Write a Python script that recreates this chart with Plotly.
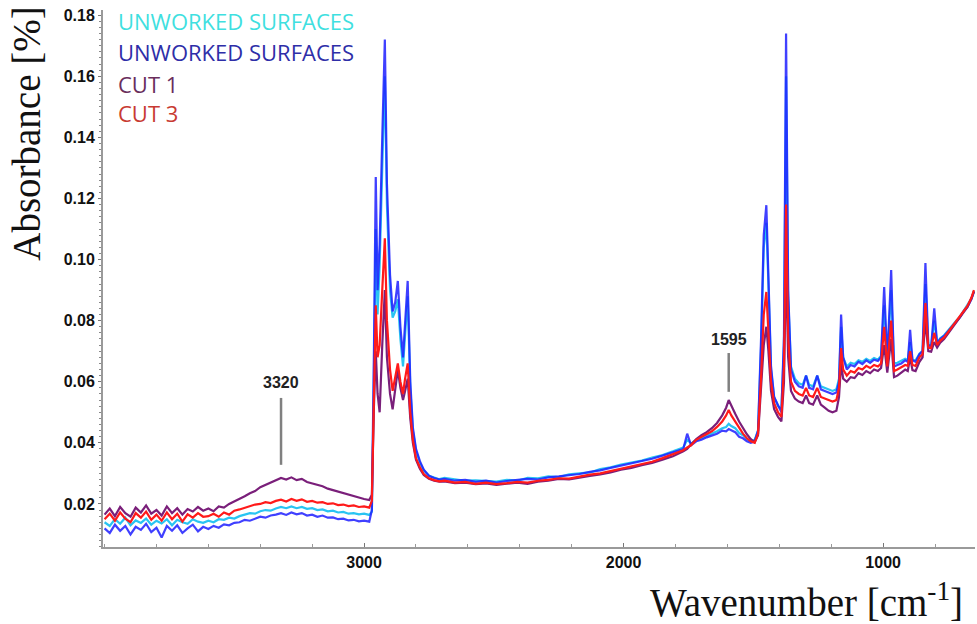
import plotly.graph_objects as go

# ---------------- data ----------------
wavenumber = [
    4000, 3980, 3960, 3940, 3920, 3900, 3880, 3860, 3840, 3820,
    3800, 3780, 3760, 3740, 3720, 3700, 3680, 3660, 3640, 3620,
    3600, 3580, 3560, 3540, 3520, 3500, 3480, 3460, 3440, 3420,
    3400, 3380, 3360, 3340, 3320, 3300, 3280, 3260, 3240, 3220,
    3200, 3180, 3160, 3140, 3120, 3100, 3080, 3060, 3040, 3020,
    3000, 2980,
    2970, 2962, 2955, 2948, 2940, 2930, 2920, 2912, 2900, 2890,
    2880, 2870, 2860, 2850, 2842, 2832, 2822, 2812, 2800, 2785,
    2770, 2750, 2730, 2710,
    2690, 2650, 2610, 2570, 2530, 2490, 2450, 2410, 2370, 2330,
    2290, 2250, 2210, 2170, 2130, 2090, 2050, 2010, 1970, 1930,
    1890, 1850, 1810, 1770,
    1755, 1740, 1720, 1700, 1680, 1660, 1640, 1620, 1605, 1595,
    1585, 1570, 1555, 1540, 1525, 1510, 1495, 1482, 1470, 1460,
    1450, 1442, 1432, 1420, 1405, 1392, 1382, 1374, 1366, 1355,
    1340, 1325, 1310, 1297, 1285, 1270, 1254, 1240, 1225, 1210,
    1195, 1180, 1170, 1162, 1154, 1140, 1125, 1110, 1095, 1080,
    1065, 1050, 1035, 1020, 1008, 996, 984, 969, 958, 945,
    930, 915, 905, 896, 887, 875, 860, 848, 837, 826,
    815, 803, 792, 780, 765, 750, 735, 720, 705, 690,
    675, 660, 650,
]

unworked_cyan = [
    0.0140, 0.0128, 0.0150, 0.0135, 0.0155, 0.0130, 0.0146, 0.0138, 0.0152, 0.0132,
    0.0145, 0.0136, 0.0150, 0.0130, 0.0148, 0.0140, 0.0135, 0.0150, 0.0142, 0.0138,
    0.0145, 0.0140, 0.0150, 0.0148, 0.0155, 0.0152, 0.0160, 0.0165, 0.0170, 0.0168,
    0.0176, 0.0180, 0.0178, 0.0185, 0.0190, 0.0186, 0.0192, 0.0186, 0.0190, 0.0184,
    0.0186, 0.0180, 0.0182, 0.0176, 0.0178, 0.0172, 0.0174, 0.0168, 0.0170, 0.0166,
    0.0168, 0.0164,
    0.0175, 0.0620, 0.1100, 0.0820, 0.0980, 0.1300, 0.1600, 0.1180, 0.0900, 0.0810,
    0.0830, 0.0870, 0.0740, 0.0650, 0.0760, 0.0880, 0.0580, 0.0440, 0.0375, 0.0335,
    0.0310, 0.0292, 0.0286, 0.0281,
    0.0285, 0.0280, 0.0276, 0.0277, 0.0274, 0.0273, 0.0279, 0.0276, 0.0285, 0.0284,
    0.0290, 0.0288, 0.0297, 0.0301, 0.0303, 0.0314, 0.0320, 0.0329, 0.0335, 0.0342,
    0.0352, 0.0360, 0.0372, 0.0385,
    0.0410, 0.0398, 0.0408, 0.0415, 0.0422, 0.0430, 0.0438, 0.0448, 0.0452, 0.0462,
    0.0455, 0.0448, 0.0432, 0.0425, 0.0412, 0.0405, 0.0410, 0.0440, 0.0720, 0.1040,
    0.1120, 0.0920, 0.0640, 0.0550, 0.0520, 0.0510, 0.0720, 0.1600, 0.0880, 0.0650,
    0.0610, 0.0595, 0.0590, 0.0620, 0.0590, 0.0585, 0.0620, 0.0585, 0.0580, 0.0575,
    0.0570, 0.0575, 0.0610, 0.0780, 0.0680, 0.0650, 0.0662, 0.0658, 0.0670, 0.0665,
    0.0675, 0.0668, 0.0678, 0.0672, 0.0685, 0.0850, 0.0675, 0.0900, 0.0660, 0.0662,
    0.0668, 0.0675, 0.0670, 0.0730, 0.0672, 0.0670, 0.0692, 0.0702, 0.0920, 0.0722,
    0.0718, 0.0800, 0.0728, 0.0742, 0.0752, 0.0768, 0.0782, 0.0798, 0.0812, 0.0832,
    0.0848, 0.0872, 0.0898,
]

unworked_blue = [
    0.0120, 0.0105, 0.0132, 0.0112, 0.0128, 0.0100, 0.0125, 0.0115, 0.0135, 0.0108,
    0.0122, 0.0090, 0.0128, 0.0112, 0.0130, 0.0105, 0.0120, 0.0132, 0.0110, 0.0125,
    0.0118, 0.0128, 0.0122, 0.0133, 0.0130, 0.0138, 0.0140, 0.0148, 0.0145, 0.0152,
    0.0158, 0.0155, 0.0162, 0.0165, 0.0170, 0.0164, 0.0172, 0.0166, 0.0170, 0.0162,
    0.0165, 0.0158, 0.0162, 0.0155, 0.0156, 0.0150, 0.0152, 0.0146, 0.0148, 0.0143,
    0.0145, 0.0142,
    0.0180, 0.0700, 0.1270, 0.0900, 0.1050, 0.1400, 0.1720, 0.1250, 0.0950, 0.0830,
    0.0860, 0.0930, 0.0780, 0.0680, 0.0800, 0.0930, 0.0600, 0.0450, 0.0380, 0.0340,
    0.0312, 0.0292, 0.0285, 0.0280,
    0.0282, 0.0276, 0.0279, 0.0272, 0.0276, 0.0270, 0.0275, 0.0278, 0.0282, 0.0280,
    0.0287, 0.0290, 0.0293, 0.0298, 0.0305, 0.0310, 0.0318, 0.0325, 0.0332, 0.0340,
    0.0348, 0.0358, 0.0368, 0.0380,
    0.0430, 0.0392, 0.0405, 0.0410, 0.0418, 0.0425, 0.0430, 0.0440, 0.0438, 0.0445,
    0.0440, 0.0435, 0.0420, 0.0415, 0.0405, 0.0400, 0.0405, 0.0440, 0.0750, 0.1080,
    0.1178, 0.0950, 0.0650, 0.0550, 0.0520, 0.0500, 0.0750, 0.1740, 0.0900, 0.0640,
    0.0600, 0.0585, 0.0580, 0.0620, 0.0580, 0.0575, 0.0620, 0.0575, 0.0570, 0.0565,
    0.0560, 0.0565, 0.0600, 0.0820, 0.0680, 0.0640, 0.0655, 0.0650, 0.0665, 0.0658,
    0.0670, 0.0662, 0.0672, 0.0668, 0.0680, 0.0910, 0.0670, 0.0966, 0.0650, 0.0655,
    0.0660, 0.0670, 0.0665, 0.0770, 0.0670, 0.0665, 0.0690, 0.0700, 0.0989, 0.0720,
    0.0715, 0.0840, 0.0725, 0.0740, 0.0750, 0.0765, 0.0780, 0.0795, 0.0810, 0.0830,
    0.0845, 0.0870, 0.0895,
]

cut1 = [
    0.0165, 0.0185, 0.0160, 0.0190, 0.0170, 0.0158, 0.0188, 0.0172, 0.0195, 0.0168,
    0.0180, 0.0162, 0.0192, 0.0170, 0.0186, 0.0165, 0.0183, 0.0175, 0.0190, 0.0178,
    0.0185, 0.0176, 0.0192, 0.0188, 0.0200, 0.0208, 0.0215, 0.0225, 0.0235, 0.0242,
    0.0255, 0.0262, 0.0270, 0.0278, 0.0285, 0.0280, 0.0287, 0.0278, 0.0282, 0.0272,
    0.0268, 0.0262, 0.0258, 0.0250, 0.0245, 0.0240, 0.0234, 0.0230, 0.0225, 0.0220,
    0.0216, 0.0213,
    0.0230, 0.0520, 0.0700, 0.0560, 0.0500, 0.0720, 0.0900, 0.0680, 0.0560, 0.0510,
    0.0570, 0.0640, 0.0580, 0.0540, 0.0570, 0.0610, 0.0480, 0.0400, 0.0345, 0.0315,
    0.0295, 0.0282, 0.0276, 0.0273,
    0.0274, 0.0268, 0.0270, 0.0265, 0.0267, 0.0262, 0.0266, 0.0270, 0.0266, 0.0273,
    0.0276, 0.0282, 0.0280, 0.0287, 0.0292, 0.0297, 0.0303, 0.0312, 0.0318, 0.0327,
    0.0334, 0.0345, 0.0356, 0.0372,
    0.0380, 0.0395, 0.0412, 0.0425, 0.0435, 0.0448, 0.0465, 0.0490, 0.0515, 0.0540,
    0.0520, 0.0495, 0.0470, 0.0448, 0.0428, 0.0412, 0.0402, 0.0425, 0.0580, 0.0720,
    0.0780, 0.0700, 0.0570, 0.0510, 0.0485, 0.0470, 0.0600, 0.1000, 0.0680, 0.0570,
    0.0545, 0.0535, 0.0530, 0.0555, 0.0530, 0.0525, 0.0555, 0.0525, 0.0515, 0.0505,
    0.0500, 0.0505, 0.0550, 0.0660, 0.0610, 0.0600, 0.0615, 0.0612, 0.0628, 0.0622,
    0.0635, 0.0628, 0.0640, 0.0635, 0.0645, 0.0720, 0.0630, 0.0740, 0.0615, 0.0620,
    0.0630, 0.0640, 0.0635, 0.0680, 0.0638, 0.0635, 0.0665, 0.0680, 0.0800, 0.0700,
    0.0698, 0.0730, 0.0712, 0.0728, 0.0740, 0.0758, 0.0775, 0.0792, 0.0808, 0.0828,
    0.0845, 0.0872, 0.0895,
]

cut3 = [
    0.0150, 0.0168, 0.0145, 0.0172, 0.0152, 0.0140, 0.0170, 0.0155, 0.0175, 0.0148,
    0.0165, 0.0145, 0.0172, 0.0150, 0.0168, 0.0142, 0.0166, 0.0155, 0.0170, 0.0158,
    0.0160, 0.0168, 0.0158, 0.0172, 0.0165, 0.0178, 0.0182, 0.0188, 0.0192, 0.0198,
    0.0200, 0.0206, 0.0203, 0.0210, 0.0214, 0.0208, 0.0216, 0.0210, 0.0215, 0.0207,
    0.0210, 0.0204, 0.0206, 0.0200, 0.0202, 0.0196, 0.0198, 0.0193, 0.0195, 0.0190,
    0.0192, 0.0188,
    0.0210, 0.0600, 0.0850, 0.0680, 0.0720, 0.0900, 0.1070, 0.0800, 0.0640, 0.0570,
    0.0610, 0.0660, 0.0600, 0.0560, 0.0610, 0.0660, 0.0500, 0.0410, 0.0350, 0.0320,
    0.0298, 0.0284, 0.0278, 0.0274,
    0.0276, 0.0270, 0.0272, 0.0266, 0.0270, 0.0265, 0.0268, 0.0272, 0.0270, 0.0276,
    0.0279, 0.0284, 0.0283, 0.0290, 0.0296, 0.0300, 0.0308, 0.0316, 0.0322, 0.0331,
    0.0338, 0.0350, 0.0362, 0.0376,
    0.0385, 0.0392, 0.0410, 0.0420, 0.0428, 0.0438, 0.0452, 0.0470, 0.0490, 0.0508,
    0.0490, 0.0470, 0.0448, 0.0430, 0.0415, 0.0405, 0.0400, 0.0430, 0.0620, 0.0820,
    0.0894, 0.0780, 0.0600, 0.0530, 0.0500, 0.0485, 0.0650, 0.1180, 0.0750, 0.0600,
    0.0570, 0.0560, 0.0555, 0.0580, 0.0555, 0.0550, 0.0580, 0.0550, 0.0545, 0.0540,
    0.0535, 0.0540, 0.0580, 0.0710, 0.0640, 0.0620, 0.0635, 0.0630, 0.0645, 0.0640,
    0.0652, 0.0645, 0.0655, 0.0650, 0.0660, 0.0780, 0.0650, 0.0800, 0.0635, 0.0640,
    0.0648, 0.0655, 0.0652, 0.0700, 0.0655, 0.0652, 0.0680, 0.0690, 0.0858, 0.0712,
    0.0710, 0.0760, 0.0720, 0.0735, 0.0745, 0.0762, 0.0778, 0.0795, 0.0810, 0.0830,
    0.0848, 0.0875, 0.0900,
]

legend_labels = ["UNWORKED SURFACES", "UNWORKED SURFACES", "CUT 1", "CUT 3"]
legend_colors = ["#3fdfe0", "#2e2ea8", "#6a2e5c", "#c83a32"]
line_colors = ["#29c4f2", "rgba(30,30,255,0.85)", "#7a1f7a", "#ff1a1a"]
series = [unworked_cyan, unworked_blue, cut1, cut3]

x_ticks = [3000, 2000, 1000]
y_ticks = [0.02, 0.04, 0.06, 0.08, 0.10, 0.12, 0.14, 0.16, 0.18]

band_labels = ["3320", "1595"]
band_pos = [3320, 1595]
band_line_bottom = [0.0328, 0.0567]
band_line_top = [0.0547, 0.0694]
band_text_y = [0.0596, 0.0737]

# ---------------- figure ----------------
fig = go.Figure()
for name, ys, col in zip(legend_labels, series, line_colors):
    fig.add_trace(go.Scatter(x=wavenumber, y=ys, mode="lines", name=name,
                             line=dict(color=col, width=2.2), showlegend=False))

annotations = []
legend_y = [0.9795, 0.9218, 0.8622, 0.8082]
for lab, col, ly in zip(legend_labels, legend_colors, legend_y):
    annotations.append(dict(text=lab, xref="paper", yref="paper",
                            x=0.015, y=ly,
                            xanchor="left", yanchor="middle", showarrow=False,
                            font=dict(family="Open Sans", size=22, color=col)))

shapes = []
for lab, xp, yb, yt, ty in zip(band_labels, band_pos, band_line_bottom, band_line_top, band_text_y):
    shapes.append(dict(type="line", xref="x", yref="y", x0=xp, x1=xp, y0=yb, y1=yt,
                       line=dict(color="#808080", width=2.5)))
    annotations.append(dict(text=lab, xref="x", yref="y", x=xp, y=ty,
                            showarrow=False, xanchor="center", yanchor="middle",
                            font=dict(family="Liberation Sans", size=16, color="#222", weight="bold")))

annotations.append(dict(text="Absorbance [%]", xref="paper", yref="paper",
                        x=-0.088, y=0.77, textangle=-90, showarrow=False,
                        xanchor="center", yanchor="middle",
                        font=dict(family="Liberation Serif", size=39, color="#111")))
annotations.append(dict(text="Wavenumber [cm<sup>-1</sup>]", xref="paper", yref="paper",
                        x=0.9885, y=-0.099, showarrow=False,
                        xanchor="right", yanchor="middle",
                        font=dict(family="Liberation Serif", size=39, color="#111")))

fig.update_layout(
    width=977, height=624,
    margin=dict(l=103, r=2, t=10, b=77),
    paper_bgcolor="white", plot_bgcolor="white",
    annotations=annotations, shapes=shapes,
    xaxis=dict(range=[4006, 646], tickvals=x_ticks, ticktext=[str(v) for v in x_ticks],
               showgrid=False, zeroline=False, showline=True, linecolor="#9a9a9a", linewidth=2,
               ticks="inside", ticklen=4, tickcolor="#777",
               minor=dict(dtick=200, ticks="inside", ticklen=3, tickcolor="#999"),
               tickfont=dict(family="Liberation Sans", size=16, color="#111", weight="bold")),
    yaxis=dict(range=[0.0059, 0.1817], tickvals=y_ticks, tickformat=".2f",
               showgrid=False, zeroline=False, showline=True, linecolor="#9a9a9a", linewidth=2,
               ticks="outside", ticklen=3, tickcolor="#777",
               minor=dict(dtick=0.002, ticks="outside", ticklen=2, tickcolor="#888"),
               tickfont=dict(family="Liberation Sans", size=16, color="#111", weight="bold")),
)

fig.write_html("out.html", config={"displayModeBar": False},
               post_script="document.body.style.margin='0';document.body.style.overflow='hidden';")
